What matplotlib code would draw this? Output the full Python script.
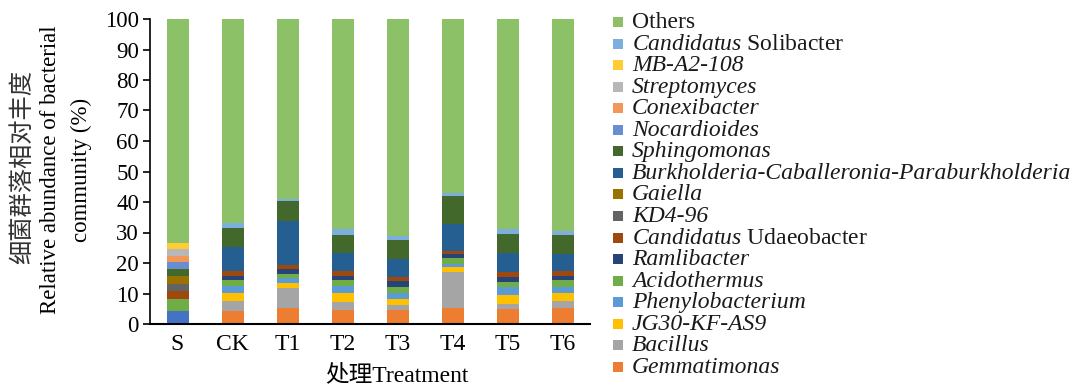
import numpy as np
import matplotlib
matplotlib.use("Agg")
import matplotlib.pyplot as plt
from matplotlib.patches import Rectangle

plt.rcParams['font.family'] = ['Liberation Serif', 'Noto Sans CJK SC']
plt.rcParams['mathtext.fontset'] = 'custom'
plt.rcParams['mathtext.rm'] = 'Liberation Serif'
plt.rcParams['mathtext.it'] = 'Liberation Serif:italic'

treatments = ["S", "CK", "T1", "T2", "T3", "T4", "T5", "T6"]

# Relative abundance (%) per genus, stacked bottom -> top
unassigned        = [4.2, 0, 0, 0, 0, 0, 0, 0]
gemmatimonas      = [0, 4.2, 5.1, 4.6, 4.6, 5.1, 5.0, 5.2]
bacillus          = [0, 3.3, 6.8, 2.5, 1.5, 12.0, 1.5, 2.5]
jg30_kf_as9       = [0, 2.6, 1.6, 3.0, 2.0, 1.6, 3.1, 2.6]
phenylobacterium  = [0, 2.4, 1.7, 2.2, 2.0, 1.1, 2.4, 1.7]
acidothermus      = [3.9, 2.0, 1.3, 2.0, 2.0, 1.7, 1.9, 2.3]
ramlibacter       = [0, 1.3, 1.4, 1.5, 1.9, 1.3, 1.4, 1.6]
udaeobacter       = [2.7, 1.5, 1.5, 1.5, 1.4, 1.1, 1.7, 1.5]
kd4_96            = [2.4, 0, 0, 0, 0, 0, 0, 0]
gaiella           = [2.5, 0, 0, 0, 0, 0, 0, 0]
burkholderia      = [0, 8.1, 14.5, 6.1, 5.9, 9.0, 6.2, 5.7]
sphingomonas      = [2.4, 6.1, 6.3, 5.8, 6.1, 9.0, 6.2, 6.1]
nocardioides      = [2.2, 0, 0, 0, 0, 0, 0, 0]
conexibacter      = [2.1, 0, 0, 0, 0, 0, 0, 0]
streptomyces      = [2.1, 0, 0, 0, 0, 0, 0, 0]
mb_a2_108         = [2.0, 0, 0, 0, 0, 0, 0, 0]
solibacter        = [0, 1.5, 0.8, 1.9, 1.6, 0.9, 1.6, 1.2]

series = [
    ("_unassigned", unassigned, "#4472C4", "normal"),
    ("Gemmatimonas", gemmatimonas, "#ED7D31", "italic"),
    ("Bacillus", bacillus, "#A5A5A5", "italic"),
    ("JG30-KF-AS9", jg30_kf_as9, "#FFC000", "italic"),
    ("Phenylobacterium", phenylobacterium, "#5B9BD5", "italic"),
    ("Acidothermus", acidothermus, "#70AD47", "italic"),
    ("Ramlibacter", ramlibacter, "#264478", "italic"),
    (r"$\mathit{Candidatus}$ Udaeobacter", udaeobacter, "#9E480E", "normal"),
    ("KD4-96", kd4_96, "#636363", "italic"),
    ("Gaiella", gaiella, "#997300", "italic"),
    ("Burkholderia-Caballeronia-Paraburkholderia", burkholderia, "#255E91", "italic"),
    ("Sphingomonas", sphingomonas, "#43682B", "italic"),
    ("Nocardioides", nocardioides, "#698ED0", "italic"),
    ("Conexibacter", conexibacter, "#F1975A", "italic"),
    ("Streptomyces", streptomyces, "#B7B7B7", "italic"),
    ("MB-A2-108", mb_a2_108, "#FFCD33", "italic"),
    (r"$\mathit{Candidatus}$ Solibacter", solibacter, "#7CAFDD", "normal"),
]

W, H = 1082, 386
fig = plt.figure(figsize=(W / 100, H / 100), dpi=100)
ax = fig.add_axes([150 / W, 62 / H, 440 / W, 305 / H])

x = np.arange(len(treatments))
bottom = np.zeros(len(treatments))
handles = []
for name, vals, color, style in series:
    v = np.array(vals, dtype=float)
    ax.bar(x, v, 0.4, bottom=bottom, color=color, linewidth=0)
    bottom += v
    if not name.startswith("_"):
        handles.append((name, color, style))

others = 100 - bottom
ax.bar(x, others, 0.4, bottom=bottom, color="#8CC168", linewidth=0)
handles.append(("Others", "#8CC168", "normal"))

ax.set_xlim(-0.5, 7.5)
ax.set_ylim(0, 100)
ax.set_yticks(np.arange(0, 101, 10))
ax.set_xticks(x)
ax.set_xticklabels(treatments, fontsize=17)
ax.tick_params(axis='y', labelsize=16.5, direction='out', length=5, width=1.2, pad=3)
ax.tick_params(axis='x', length=0, pad=7)
for s in ("top", "right"):
    ax.spines[s].set_visible(False)
ax.spines["left"].set_linewidth(1.2)
ax.spines["bottom"].set_linewidth(1.5)

# axis titles
fig.text(22 / W, 1 - 167 / H, "细菌群落相对丰度", rotation=90, ha='center', va='center',
         fontsize=17.5, family=['Noto Sans CJK SC'], fontweight='light', color='#333333')
fig.text(51 / W, 1 - 170 / H, "Relative abundance of bacterial", rotation=90,
         ha='center', va='center', fontsize=16.5)
fig.text(81 / W, 1 - 170 / H, "community (%)", rotation=90,
         ha='center', va='center', fontsize=16.5)
fig.text(397 / W, 1 - 375 / H, "处理Treatment", ha='center', va='center', fontsize=17,
         family=['Liberation Serif', 'Noto Sans CJK SC'])

# legend, top entry = last series drawn
legend_items = handles[::-1]
y0, pitch = 22.0, (367.0 - 22.0) / (len(legend_items) - 1)
for i, (name, color, style) in enumerate(legend_items):
    yc = y0 + i * pitch
    fig.add_artist(Rectangle((613 / W, 1 - (yc + 5) / H), 10 / W, 10 / H,
                             transform=fig.transFigure, facecolor=color,
                             edgecolor='none'))
    fig.text(632 / W, 1 - (yc + 6) / H, name, ha='left', va='baseline',
             fontsize=17, fontstyle=style, color='#1a1a1a')

fig.savefig("out.png", dpi=100)
